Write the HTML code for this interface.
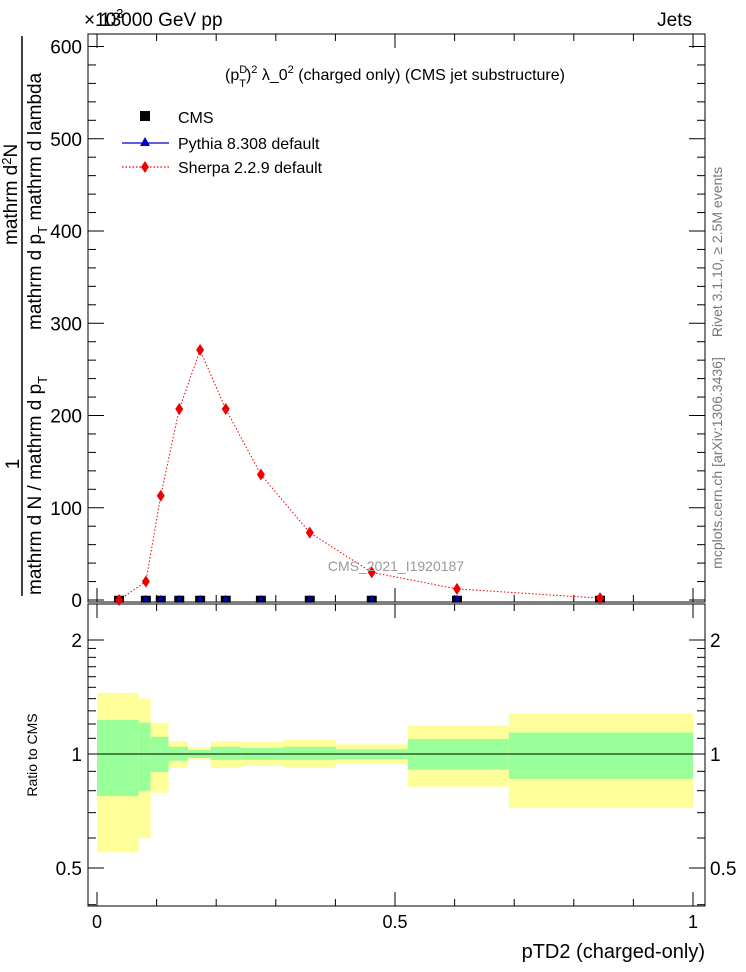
<!DOCTYPE html>
<html><head><meta charset="utf-8"><style>
html,body{margin:0;padding:0;background:#fff;}
svg{display:block;font-family:"Liberation Sans",sans-serif;}
</style></head><body>
<svg id="chart" width="746" height="972" viewBox="0 0 746 972" xmlns="http://www.w3.org/2000/svg">
<g id="bands"></g>
<g id="axes"></g>
<g id="marks"></g>
<text x="100" y="26" font-size="19">13000 GeV pp</text>
<text x="84" y="26" font-size="19">×10<tspan font-size="13" dy="-8">3</tspan></text>
<text x="692" y="26" font-size="19" text-anchor="end">Jets</text>
<text x="395" y="80" font-size="16" text-anchor="middle">(p<tspan font-size="11" dy="-7">D</tspan><tspan font-size="11" dx="-8" dy="14">T</tspan><tspan dy="-7">)</tspan><tspan font-size="11" dy="-7">2</tspan><tspan dy="7"> λ_0</tspan><tspan font-size="11" dy="-7">2</tspan><tspan dy="7"> (charged only) (CMS jet substructure)</tspan></text>
<g>
<rect x="140" y="111" width="10" height="10" fill="#000"/>
<text x="178" y="123" font-size="16">CMS</text>
<line x1="122" y1="143" x2="169" y2="143" stroke="#0000cc" stroke-width="1.2"/>
<polygon points="145,137 150,146 140,146" fill="#0000cc"/>
<text x="178" y="149" font-size="16">Pythia 8.308 default</text>
<line x1="122" y1="167" x2="169" y2="167" stroke="#e00" stroke-width="1.2" stroke-dasharray="1.5,2"/>
<polygon points="145,161 149,167 145,173 141,167" fill="#e00"/>
<text x="178" y="173" font-size="16">Sherpa 2.2.9 default</text>
</g>
<text x="396" y="571" font-size="14" fill="#999" text-anchor="middle">CMS_2021_I1920187</text>
<g font-size="19">
<text transform="translate(19,464) rotate(-90)" text-anchor="middle">1</text>
<line x1="22" y1="36" x2="22" y2="596" stroke="#000" stroke-width="1.5"/>
<text transform="translate(41,595) rotate(-90)">mathrm d N / mathrm d p<tspan font-size="13" dy="6">T</tspan></text>
<text transform="translate(17,245) rotate(-90)">mathrm d<tspan font-size="13" dy="-6">2</tspan><tspan dy="6">N</tspan></text>
<text transform="translate(41,330) rotate(-90)">mathrm d p<tspan font-size="13" dy="6">T</tspan><tspan dy="-6"> mathrm d lambda</tspan></text>
</g>
<text transform="translate(37,755) rotate(-90)" font-size="14" text-anchor="middle">Ratio to CMS</text>
<text x="705" y="958" font-size="20" text-anchor="end">pTD2 (charged-only)</text>
<text transform="translate(722,252) rotate(-90)" font-size="14" fill="#777" text-anchor="middle">Rivet 3.1.10, ≥ 2.5M events</text>
<text transform="translate(722,463) rotate(-90)" font-size="14" fill="#777" text-anchor="middle">mcplots.cern.ch [arXiv:1306.3436]</text>
</svg>
<script>
const xPoints=[0.037,0.082,0.107,0.138,0.173,0.216,0.275,0.357,0.461,0.604,0.844];
const sherpaVals=[0,20,113,207,271,207,136,73,30,12,2];
const cmsVals=[0.3,0.3,0.3,0.3,0.3,0.3,0.3,0.3,0.3,0.3,0.3];
const pythiaVals=[0.3,0.3,0.3,0.3,0.3,0.3,0.3,0.3,0.3,0.3,0.3];
const binEdges=[0,0.07,0.09,0.12,0.153,0.191,0.242,0.312,0.401,0.522,0.691,1.0];
const yelHi=[1.45,1.40,1.21,1.08,1.04,1.08,1.075,1.09,1.06,1.19,1.28];
const yelLo=[0.55,0.60,0.79,0.92,0.965,0.92,0.93,0.92,0.94,0.82,0.72];
const grnHi=[1.23,1.21,1.11,1.045,1.025,1.045,1.038,1.045,1.03,1.095,1.14];
const grnLo=[0.775,0.80,0.896,0.96,0.976,0.965,0.965,0.965,0.97,0.91,0.86];
const yTicks=[0,100,200,300,400,500,600];
const rTicks=[0.5,1,2];
const xTicks=[0,0.5,1];
const NS="http://www.w3.org/2000/svg";
const L=88,R=705,T1=34,B1=602,T2=604,B2=906;
const X=v=>97+v*596;
const Y=v=>600-v*0.9225;
const RY=v=>754-Math.log10(v)*378.7;
function mk(parent,tag,attrs){const e=document.createElementNS(NS,tag);for(const k in attrs)e.setAttribute(k,attrs[k]);document.getElementById(parent).appendChild(e);return e;}
for(let i=0;i<binEdges.length-1;i++){
 const x0=X(binEdges[i]),x1=X(binEdges[i+1]);
 const y=mk('bands','rect',{x:x0,y:RY(yelHi[i]),width:x1-x0,height:RY(yelLo[i])-RY(yelHi[i]),fill:'#ffff99'});
 
 
 const g=mk('bands','rect',{x:x0,y:RY(grnHi[i]),width:x1-x0,height:RY(grnLo[i])-RY(grnHi[i]),fill:'#99ff99'});
 
 
}
const ln=mk('bands','line',{x1:L,x2:R,y1:RY(1),y2:RY(1),stroke:'#000','stroke-width':1});


for(const [t,b] of [[T1,B1],[T2,B2]]){
 const f=mk('axes','rect',{x:L,y:t,width:R-L,height:b-t,fill:'none',stroke:'#000','stroke-width':1});
 
 
}
for(let k=0;k<=10;k++){
 const v=k/10,x=X(v),major=(k%5===0),len=major?14:7;
 mk('axes','line',{x1:x,x2:x,y1:B1,y2:B1-len,stroke:'#000'});
 mk('axes','line',{x1:x,x2:x,y1:T1,y2:T1+len,stroke:'#000'});
 mk('axes','line',{x1:x,x2:x,y1:B2,y2:B2-len,stroke:'#000'});
 mk('axes','line',{x1:x,x2:x,y1:T2,y2:T2+len,stroke:'#000'});
}
xTicks.forEach(v=>{const t=mk('axes','text',{x:X(v),y:928,'font-size':18,'text-anchor':'middle'});t.textContent=String(v);
 
 });
for(let v=0;v<=600;v+=20){
 const y=Y(v),len=(v%100===0)?16:8;
 mk('axes','line',{x1:L,x2:L+len,y1:y,y2:y,stroke:'#000'});
 mk('axes','line',{x1:R,x2:R-len,y1:y,y2:y,stroke:'#000'});
}
yTicks.forEach(v=>{const t=mk('axes','text',{x:82,y:Y(v)+7,'font-size':19,'text-anchor':'end'});t.textContent=String(v);
 
 });
[0.4,0.5,0.6,0.7,0.8,0.9,1,1.1,1.2,1.3,1.4,1.5,1.6,1.7,1.8,1.9,2,3].forEach(v=>{
 const y=RY(v);if(y<T2||y>B2)return;const len=rTicks.includes(v)?16:8;
 mk('axes','line',{x1:L,x2:L+len,y1:y,y2:y,stroke:'#000'});
 mk('axes','line',{x1:R,x2:R-len,y1:y,y2:y,stroke:'#000'});
});
rTicks.forEach(v=>{
 const a=mk('axes','text',{x:82,y:RY(v)+7,'font-size':19,'text-anchor':'end'});a.textContent=String(v);
 
 
 const b=mk('axes','text',{x:710,y:RY(v)+7,'font-size':19});b.textContent=String(v);
 
 
});
const pl=mk('marks','polyline',{points:xPoints.map((x,i)=>X(x)+','+Y(sherpaVals[i])).join(' '),fill:'none',stroke:'#e00','stroke-width':1,'stroke-dasharray':'1.5,2'});


xPoints.forEach((xv,i)=>{
 const x=X(xv);
 const c=mk('marks','rect',{x:x-5,y:Y(cmsVals[i])-4,width:10,height:7,fill:'#000'});
 
 
 const yp=Y(pythiaVals[i]);
 const p=mk('marks','polygon',{points:`${x},${yp-5} ${x+3},${yp+1} ${x-3},${yp+1}`,fill:'#0000cc'});
 
 
 const ys=Y(sherpaVals[i]);
 const s=mk('marks','polygon',{points:`${x},${ys-6} ${x+4},${ys} ${x},${ys+6} ${x-4},${ys}`,fill:'#e00'});
 
 
});
</script>
</body></html>
